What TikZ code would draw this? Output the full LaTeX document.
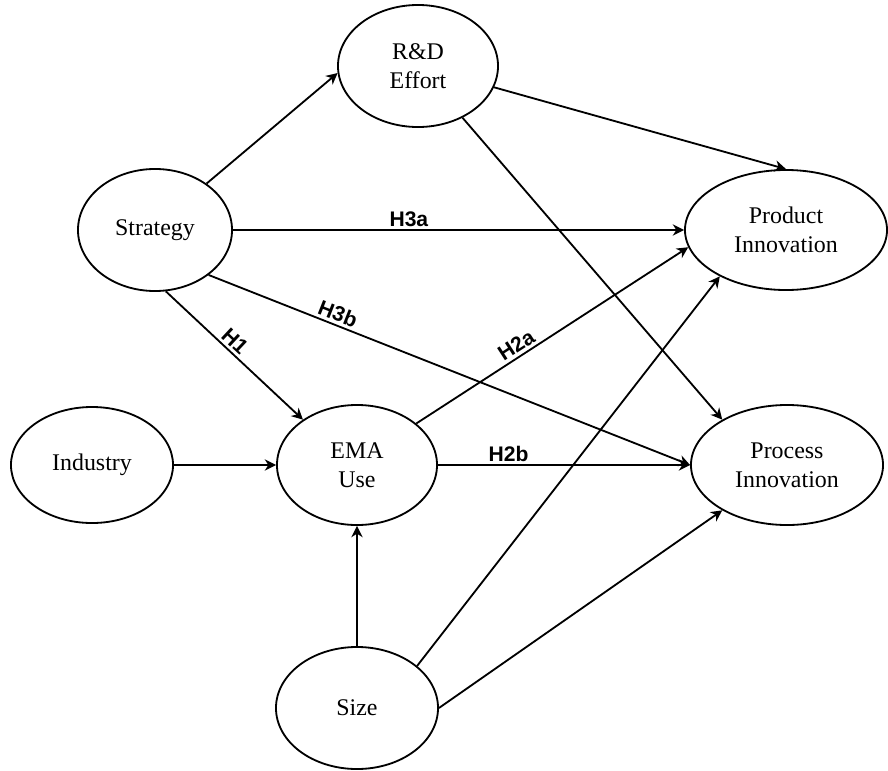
\documentclass[tikz,border=0pt]{standalone}
\usepackage{fontspec}
\setmainfont{Liberation Serif}
\newfontfamily\hypfont{Liberation Sans}
\usetikzlibrary{arrows.meta,shapes.geometric}

\begin{document}
\begin{tikzpicture}[x=0.025cm,y=-0.025cm,line width=1.3pt,
  var/.style={draw,ellipse,inner sep=0pt,align=center,font=\fontsize{17}{20.5}\selectfont},
  hyp/.style={font=\hypfont\bfseries\fontsize{15}{18}\selectfont,inner sep=2pt},
  >={Stealth[length=8pt,width=8pt,inset=2.5pt]}]
  \useasboundingbox (0,0) rectangle (888,770);
  % constructs
  \node[var,minimum width=4cm,minimum height=3.05cm] (rd) at (418,66) {R\&D\\Effort};
  \node[var,minimum width=3.85cm,minimum height=3.05cm] (strategy) at (155,230) {Strategy};
  \node[var,minimum width=5.05cm,minimum height=3cm] (product) at (786,230) {Product\\Innovation};
  \node[var,minimum width=4.05cm,minimum height=2.9cm] (industry) at (92,465) {Industry};
  \node[var,minimum width=4cm,minimum height=3cm] (ema) at (357,465) {EMA\\Use};
  \node[var,minimum width=4.8cm,minimum height=3cm] (process) at (787,465) {Process\\Innovation};
  \node[var,minimum width=4.05cm,minimum height=3.05cm] (size) at (357,708) {Size};
  % paths
  \draw[->] (strategy.42) -- (rd.185);
  \draw[->] (strategy.east) -- (product.west) node[hyp,pos=0.39,above] {H3a};
  \draw[->] (strategy.-40) -- (process.west) node[hyp,pos=0.26,sloped,above] {H3b};
  \draw[->] (strategy.-80) -- (ema.140) node[hyp,pos=0.45,sloped,above] {H1};
  \draw[->] (rd) -- (product.north);
  \draw[->] (rd) -- (process.145);
  \draw[->] (industry) -- (ema);
  \draw[->] (ema.35) -- (product.190) node[hyp,pos=0.39,sloped,above] {H2a};
  \draw[->] (ema) -- (process) node[hyp,pos=0.28,above] {H2b};
  \draw[->] (size) -- (ema);
  \draw[->] (size.35) -- (product.-145);
  \draw[->] (size.east) -- (process.-145);
\end{tikzpicture}
\end{document}
